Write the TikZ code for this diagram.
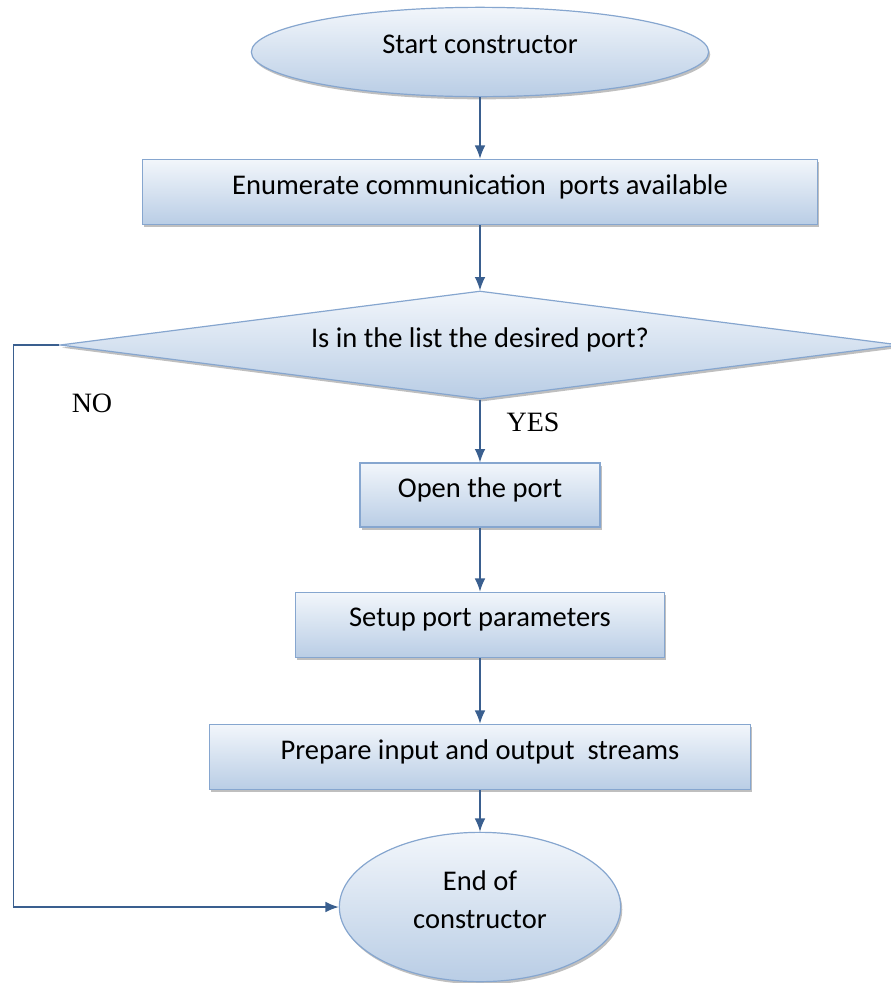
\documentclass[tikz,border=0pt]{standalone}
\usepackage{fontspec}
\setmainfont{Carlito}
\newfontfamily\timesfont{Liberation Serif}
\usetikzlibrary{shapes.geometric, shadows, arrows.meta}

\definecolor{boxtop}{HTML}{F2F6FB}
\definecolor{boxbot}{HTML}{B9CDE5}
\definecolor{boxline}{HTML}{86A6CF}
\definecolor{flow}{HTML}{3A5F8F}

\begin{document}
\begin{tikzpicture}[x=0.75pt, y=-0.75pt,
  box/.style={draw=boxline, line width=0.9pt, top color=boxtop, bottom color=boxbot,
    drop shadow={shadow xshift=1.2pt, shadow yshift=-2pt, opacity=0.5, fill=gray},
    font=\fontsize{21.4}{28.5}\selectfont, inner sep=0pt, align=center, text depth=11pt},
  label/.style={font=\timesfont\fontsize{21}{25}\selectfont},
  >={Latex[length=10pt,width=8pt]}]
\useasboundingbox (0,0) rectangle (891,983);

\node[box, ellipse, minimum width=343pt, minimum height=67pt] (start) at (480,52) {Start constructor};
\node[box, rectangle, minimum width=506pt, minimum height=49pt] (enum) at (480,192) {Enumerate communication\ \ ports available};
\node[box, diamond, aspect=7.7, minimum width=630pt, minimum height=81pt] (dec) at (480,345) {Is in the list the desired port?};
\node[box, rectangle, minimum width=180pt, minimum height=48pt] (open) at (480,495) {Open the port};
\node[box, rectangle, minimum width=277pt, minimum height=49pt] (setup) at (480,625) {Setup port parameters};
\node[box, rectangle, minimum width=406pt, minimum height=49pt] (streams) at (480,757) {Prepare input and output\ \ streams};
\node[box, ellipse, minimum width=211pt, minimum height=112pt] (end) at (480,907) {End of\\constructor};

\node[label] (no) at (92,403) {NO};
\node[label] (yes) at (533,422) {YES};

\draw[->, flow, line width=1pt] (start) -- (enum);
\draw[->, flow, line width=1pt] (enum) -- (dec);
\draw[->, flow, line width=1pt] (dec) -- (open);
\draw[->, flow, line width=1pt] (open) -- (setup);
\draw[->, flow, line width=1pt] (setup) -- (streams);
\draw[->, flow, line width=1pt] (streams) -- (end);
\draw[->, flow, line width=1pt] (dec.west) -- ++(-46,0) |- (end.west);
\end{tikzpicture}
\end{document}
